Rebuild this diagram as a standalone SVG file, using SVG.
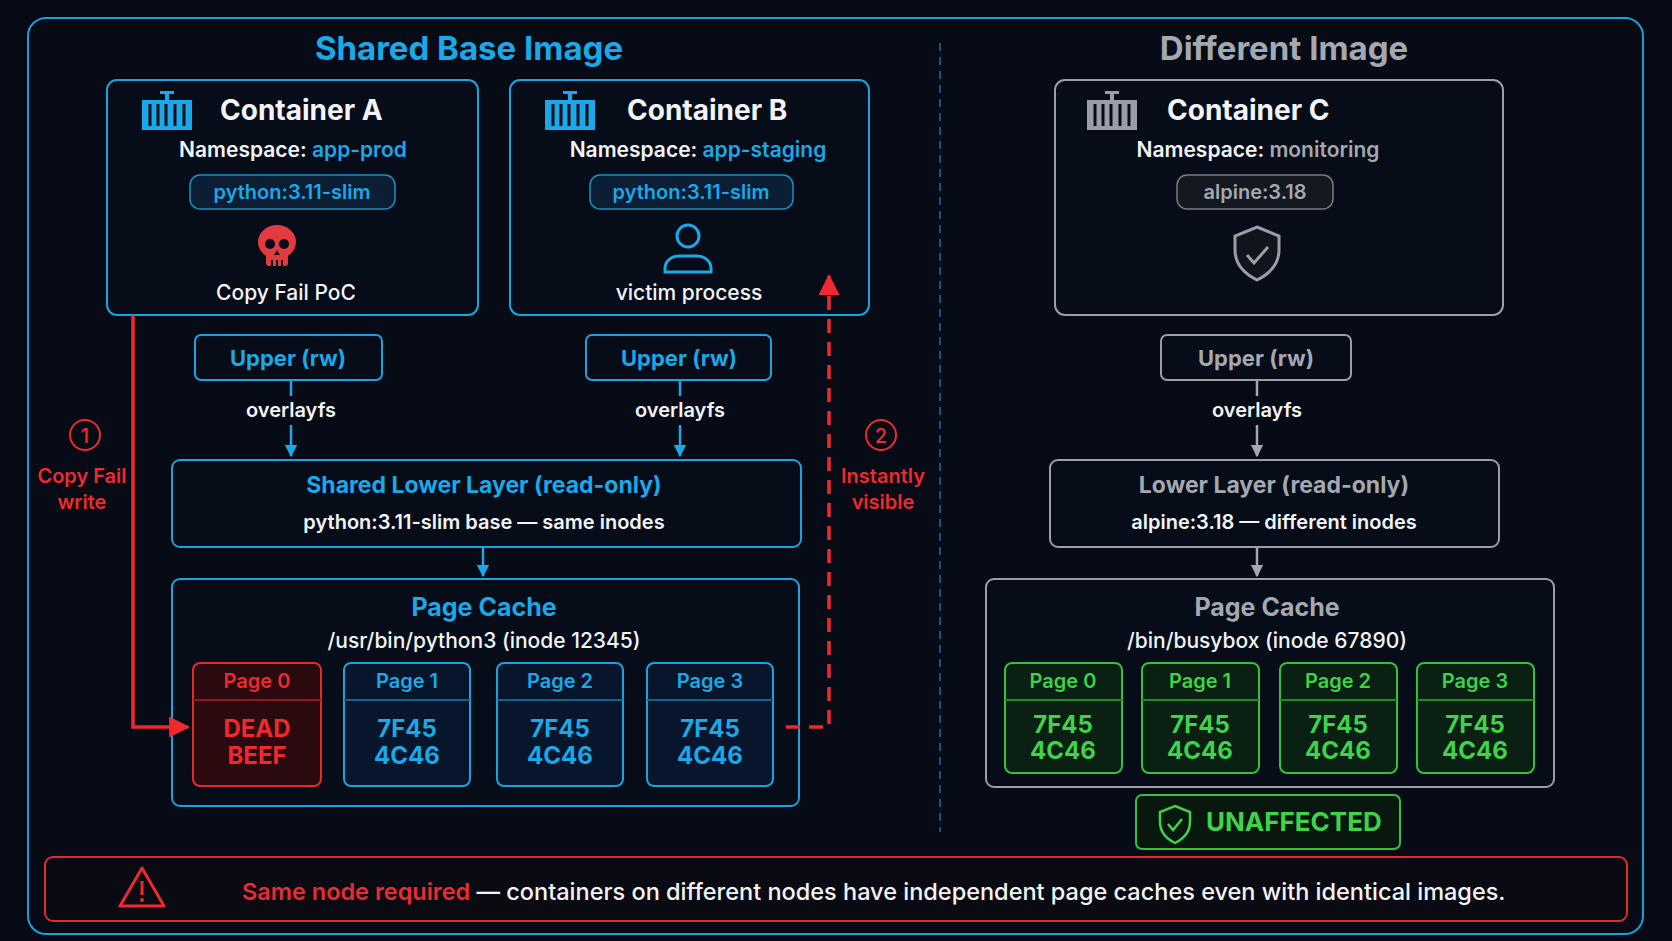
<svg xmlns="http://www.w3.org/2000/svg" width="1672" height="941" viewBox="0 0 1672 941">
<style>
text{font-family:Inter,"Noto Sans","Liberation Sans",sans-serif;text-anchor:middle}
.cy{fill:#1ba8e8}.gy{fill:#a4a8b0}.wh{fill:#f2f4f7}.rd{fill:#ee2a2e}.gr{fill:#3fd24a}
.box{fill:#060c18;stroke:#1ba3de;stroke-width:2}
.gbox{fill:#060c18;stroke:#9a9ea6;stroke-width:2}
.h1{font-size:33px;font-weight:700}
.h2{font-size:28px;font-weight:700;text-anchor:start}
.ns{font-size:21px;font-weight:600}
.lb{font-size:20px;font-weight:600}
.t{font-size:22px;font-weight:700}
.pg{font-size:20px;font-weight:600}
.val{font-size:24px;font-weight:700}
</style>
<defs>
<marker id="ab" viewBox="0 0 10 10" refX="9" refY="5" markerWidth="5" markerHeight="5" orient="auto"><path d="M0,0L10,5L0,10z" fill="#1ba8e8"/></marker>
<marker id="ag" viewBox="0 0 10 10" refX="9" refY="5" markerWidth="5" markerHeight="5" orient="auto"><path d="M0,0L10,5L0,10z" fill="#a4a8b0"/></marker>
<marker id="ar" viewBox="0 0 10 10" refX="9" refY="5" markerWidth="6" markerHeight="6" orient="auto"><path d="M0,0L10,5L0,10z" fill="#ee2a2e"/></marker>
</defs>
<rect width="1672" height="941" fill="#050a14"/>
<rect x="28" y="18" width="1615" height="916" rx="18" fill="#060b16" stroke="#1b9fd8" stroke-width="2"/>
<text x="469" y="60" class="h1 cy">Shared Base Image</text>
<text x="1284" y="60" class="h1 gy">Different Image</text>
<line x1="940" y1="43" x2="940" y2="832" stroke="#1b6f9a" stroke-width="1.5" stroke-dasharray="8 6"/>

<g id="containerA">
<rect x="107" y="80" width="371" height="235" rx="10" class="box"/>
<g fill="#1ba8e8"><rect x="142" y="100" width="50" height="30"/><rect x="165" y="92" width="4" height="8"/><rect x="160" y="91" width="14" height="3"/></g>
<g stroke="#060c18" stroke-width="3"><line x1="150" y1="104" x2="150" y2="126"/><line x1="158" y1="104" x2="158" y2="126"/><line x1="166" y1="104" x2="166" y2="126"/><line x1="175" y1="104" x2="175" y2="126"/><line x1="184" y1="104" x2="184" y2="126"/></g>
<text x="220" y="120" class="h2 wh">Container A</text>
<text x="293" y="157" class="ns wh">Namespace: <tspan class="cy">app-prod</tspan></text>
<rect x="190" y="175" width="205" height="34" rx="10" fill="#0b1e33" stroke="#1b8fc4" stroke-width="1.5"/>
<text x="292" y="199" class="lb cy">python:3.11-slim</text>
<g fill="#e23a3e"><ellipse cx="277" cy="242" rx="19" ry="17"/><rect x="266" y="250" width="22" height="16" rx="3"/></g>
<g fill="#060c18"><circle cx="270" cy="244" r="5"/><circle cx="284" cy="244" r="5"/><path d="M277,250l-3,5h6z"/><rect x="271" y="260" width="2" height="6"/><rect x="276" y="260" width="2" height="6"/><rect x="281" y="260" width="2" height="6"/></g>
<text x="286" y="300" class="ns wh" style="font-weight:500">Copy Fail PoC</text>
</g>

<g id="containerB">
<rect x="510" y="80" width="359" height="235" rx="10" class="box"/>
<g fill="#1ba8e8"><rect x="545" y="100" width="50" height="30"/><rect x="568" y="92" width="4" height="8"/><rect x="563" y="91" width="14" height="3"/></g>
<g stroke="#060c18" stroke-width="3"><line x1="553" y1="104" x2="553" y2="126"/><line x1="561" y1="104" x2="561" y2="126"/><line x1="569" y1="104" x2="569" y2="126"/><line x1="578" y1="104" x2="578" y2="126"/><line x1="587" y1="104" x2="587" y2="126"/></g>
<text x="627" y="120" class="h2 wh">Container B</text>
<text x="698" y="157" class="ns wh">Namespace: <tspan class="cy">app-staging</tspan></text>
<rect x="590" y="175" width="203" height="34" rx="10" fill="#0b1e33" stroke="#1b8fc4" stroke-width="1.5"/>
<text x="691" y="199" class="lb cy">python:3.11-slim</text>
<g fill="none" stroke="#1ba8e8" stroke-width="3"><circle cx="688" cy="236" r="11"/><path d="M665,272v-4a14,12 0 0 1 14,-12h18a14,12 0 0 1 14,12v4z"/></g>
<text x="689" y="300" class="ns wh" style="font-weight:500">victim process</text>
</g>

<g id="containerC">
<rect x="1055" y="80" width="448" height="235" rx="10" class="gbox"/>
<g fill="#9a9ea6"><rect x="1087" y="100" width="50" height="30"/><rect x="1110" y="92" width="4" height="8"/><rect x="1105" y="91" width="14" height="3"/></g>
<g stroke="#060c18" stroke-width="3"><line x1="1095" y1="104" x2="1095" y2="126"/><line x1="1103" y1="104" x2="1103" y2="126"/><line x1="1111" y1="104" x2="1111" y2="126"/><line x1="1120" y1="104" x2="1120" y2="126"/><line x1="1129" y1="104" x2="1129" y2="126"/></g>
<text x="1167" y="120" class="h2 wh">Container C</text>
<text x="1258" y="157" class="ns wh">Namespace: <tspan class="gy">monitoring</tspan></text>
<rect x="1177" y="175" width="156" height="34" rx="10" fill="#141821" stroke="#777b84" stroke-width="1.5"/>
<text x="1255" y="199" class="lb gy">alpine:3.18</text>
<path d="M1257,227l22,9v14c0,14-10,24-22,30c-12-6-22-16-22-30v-14z" fill="#10141c" stroke="#9a9ea6" stroke-width="3"/>
<path d="M1247,255l7,8l14,-16" fill="none" stroke="#9a9ea6" stroke-width="3"/>
</g>

<g id="upperA"><rect x="195" y="335" width="187" height="45" rx="6" class="box"/><text x="288" y="366" class="t cy">Upper (rw)</text></g>
<g id="upperB"><rect x="586" y="335" width="185" height="45" rx="6" class="box"/><text x="679" y="366" class="t cy">Upper (rw)</text></g>
<g id="upperC"><rect x="1161" y="335" width="190" height="45" rx="6" class="gbox"/><text x="1256" y="366" class="t gy">Upper (rw)</text></g>

<g id="lowerShared"><rect x="172" y="460" width="629" height="87" rx="8" class="box"/>
<text x="484" y="493" class="t cy" style="font-size:23px">Shared Lower Layer (read-only)</text>
<text x="484" y="529" class="lb wh">python:3.11-slim base — same inodes</text></g>
<g id="lowerC"><rect x="1050" y="460" width="449" height="87" rx="8" class="gbox"/>
<text x="1274" y="493" class="t gy" style="font-size:23px">Lower Layer (read-only)</text>
<text x="1274" y="529" class="lb wh">alpine:3.18 — different inodes</text></g>

<g id="cacheShared"><rect x="172" y="579" width="627" height="227" rx="8" class="box"/>
<text x="484" y="616" class="t cy" style="font-size:25px">Page Cache</text>
<text x="484" y="648" class="lb wh" style="font-weight:500;font-size:21px">/usr/bin/python3 (inode 12345)</text>
<rect x="193" y="663" width="128" height="123" rx="7" fill="#2a0a0e" stroke="#e52a2e" stroke-width="2"/><line x1="193" y1="700" x2="321" y2="700" stroke="#8a1a1e" stroke-width="2"/>
<text x="257" y="688" class="pg rd">Page 0</text><text x="257" y="737" class="val rd">DEAD</text><text x="257" y="764" class="val rd">BEEF</text>
<rect x="344" y="663" width="126" height="123" rx="7" fill="#07162a" stroke="#1ba3de" stroke-width="2"/><line x1="344" y1="700" x2="470" y2="700" stroke="#15628a" stroke-width="2"/>
<text x="407" y="688" class="pg cy">Page 1</text><text x="407" y="737" class="val cy">7F45</text><text x="407" y="764" class="val cy">4C46</text>
<rect x="497" y="663" width="126" height="123" rx="7" fill="#07162a" stroke="#1ba3de" stroke-width="2"/><line x1="497" y1="700" x2="623" y2="700" stroke="#15628a" stroke-width="2"/>
<text x="560" y="688" class="pg cy">Page 2</text><text x="560" y="737" class="val cy">7F45</text><text x="560" y="764" class="val cy">4C46</text>
<rect x="647" y="663" width="126" height="123" rx="7" fill="#07162a" stroke="#1ba3de" stroke-width="2"/><line x1="647" y1="700" x2="773" y2="700" stroke="#15628a" stroke-width="2"/>
<text x="710" y="688" class="pg cy">Page 3</text><text x="710" y="737" class="val cy">7F45</text><text x="710" y="764" class="val cy">4C46</text>
</g>

<g id="cacheC"><rect x="986" y="579" width="568" height="208" rx="8" class="gbox"/>
<text x="1267" y="616" class="t gy" style="font-size:25px">Page Cache</text>
<text x="1267" y="648" class="lb wh" style="font-weight:500;font-size:21px">/bin/busybox (inode 67890)</text>
<g fill="#0a2012" stroke="#32c23e" stroke-width="2">
<rect x="1005" y="663" width="117" height="110" rx="7"/><rect x="1142" y="663" width="117" height="110" rx="7"/><rect x="1280" y="663" width="117" height="110" rx="7"/><rect x="1417" y="663" width="117" height="110" rx="7"/></g>
<g stroke="#1f8a2a" stroke-width="2"><line x1="1005" y1="700" x2="1122" y2="700"/><line x1="1142" y1="700" x2="1259" y2="700"/><line x1="1280" y1="700" x2="1397" y2="700"/><line x1="1417" y1="700" x2="1534" y2="700"/></g>
<text x="1063" y="688" class="pg gr">Page 0</text><text x="1063" y="733" class="val gr">7F45</text><text x="1063" y="759" class="val gr">4C46</text>
<text x="1200" y="688" class="pg gr">Page 1</text><text x="1200" y="733" class="val gr">7F45</text><text x="1200" y="759" class="val gr">4C46</text>
<text x="1338" y="688" class="pg gr">Page 2</text><text x="1338" y="733" class="val gr">7F45</text><text x="1338" y="759" class="val gr">4C46</text>
<text x="1475" y="688" class="pg gr">Page 3</text><text x="1475" y="733" class="val gr">7F45</text><text x="1475" y="759" class="val gr">4C46</text>
</g>

<g id="unaffected"><rect x="1136" y="795" width="264" height="54" rx="6" fill="#08180e" stroke="#32c23e" stroke-width="2"/>
<path d="M1175,806l15,6v10c0,10-7,17-15,21c-8-4-15-11-15-21v-10z" fill="none" stroke="#3fd24a" stroke-width="2.5"/>
<path d="M1168,824l5,6l9,-11" fill="none" stroke="#3fd24a" stroke-width="2.5"/>
<text x="1206" y="831" class="t gr" style="text-anchor:start;font-size:26px">UNAFFECTED</text></g>

<g id="warning"><rect x="45" y="857" width="1582" height="64" rx="8" fill="#0a0a12" stroke="#e52a2e" stroke-width="2"/>
<path d="M142,868l22,38h-44z" fill="none" stroke="#ee2a2e" stroke-width="3" stroke-linejoin="round"/>
<line x1="142" y1="881" x2="142" y2="895" stroke="#ee2a2e" stroke-width="3"/><circle cx="142" cy="900" r="2" fill="#ee2a2e"/>
<text x="242" y="900" class="wh" style="text-anchor:start;font-size:23.5px;font-weight:500"><tspan class="rd" style="font-weight:600">Same node required</tspan> — containers on different nodes have independent page caches even with identical images.</text></g>

<g id="connectors" fill="none">
<g stroke="#1ba8e8" stroke-width="2.5">
<line x1="291" y1="381" x2="291" y2="396"/><line x1="291" y1="425" x2="291" y2="456" marker-end="url(#ab)"/>
<line x1="680" y1="381" x2="680" y2="396"/><line x1="680" y1="425" x2="680" y2="456" marker-end="url(#ab)"/>
<line x1="483" y1="548" x2="483" y2="576" marker-end="url(#ab)"/></g>
<g stroke="#a4a8b0" stroke-width="2.5"><line x1="1257" y1="381" x2="1257" y2="396"/><line x1="1257" y1="425" x2="1257" y2="456" marker-end="url(#ag)"/><line x1="1257" y1="548" x2="1257" y2="576" marker-end="url(#ag)"/></g>
<path d="M133,315V727H188" stroke="#ee2a2e" stroke-width="3.5" marker-end="url(#ar)"/>
<path d="M786,727H829V276" stroke="#ee2a2e" stroke-width="3.5" stroke-dasharray="14 9" marker-end="url(#ar)"/>
</g>
<text x="291" y="417" class="lb wh" style="font-size:20px">overlayfs</text>
<text x="680" y="417" class="lb wh" style="font-size:20px">overlayfs</text>
<text x="1257" y="417" class="lb wh" style="font-size:20px">overlayfs</text>
<circle cx="85" cy="435" r="15" fill="none" stroke="#ee2a2e" stroke-width="2"/><text x="85" y="443" class="lb rd" style="font-weight:500">1</text>
<text x="82" y="483" class="lb rd">Copy Fail</text><text x="82" y="509" class="lb rd">write</text>
<circle cx="881" cy="435" r="15" fill="none" stroke="#ee2a2e" stroke-width="2"/><text x="881" y="443" class="lb rd" style="font-weight:500">2</text>
<text x="883" y="483" class="lb rd">Instantly</text><text x="883" y="509" class="lb rd">visible</text>
</svg>
